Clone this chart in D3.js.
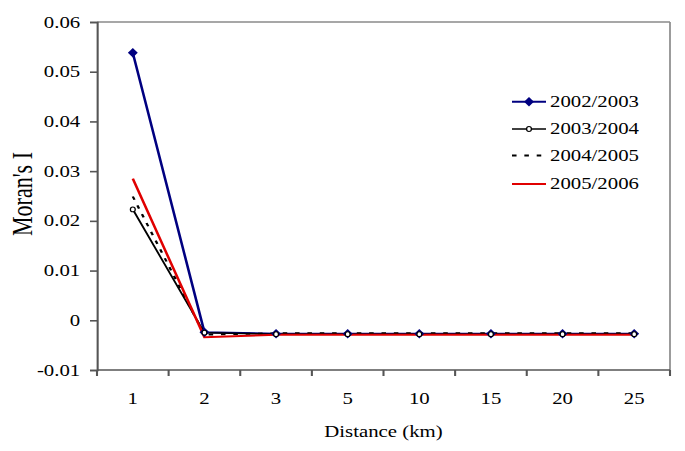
<!DOCTYPE html>
<html>
<head>
<meta charset="utf-8">
<script src="https://cdn.jsdelivr.net/npm/d3@7"></script>
<style>
  body { margin: 0; background: #fff; }
  text { font-family: "Liberation Serif", "Times New Roman", serif; fill: #000; }
</style>
</head>
<body>
<svg id="chart"></svg>
<script>
// chart values
const distance = ["1", "2", "3", "5", "10", "15", "20", "25"]
const s2002 = [0.0538, -0.0024, -0.0027, -0.0027, -0.0027, -0.0027, -0.0027, -0.0027]
const s2003 = [0.0223, -0.0025, -0.0028, -0.0028, -0.0028, -0.0028, -0.0028, -0.0028]
const s2004 = [0.0249, -0.0029, -0.0026, -0.0026, -0.0026, -0.0026, -0.0026, -0.0026]
const s2005 = [0.0285, -0.0034, -0.0029, -0.0029, -0.0029, -0.0029, -0.0029, -0.0029]
const yTicks = [-0.01, 0, 0.01, 0.02, 0.03, 0.04, 0.05, 0.06]
const seriesNames = ["2002/2003", "2003/2004", "2004/2005", "2005/2006"]

// the original picture is stretched sideways, so draw in a narrower box and stretch it
const W = 685, H = 451, S = 1.3
const w = W / S
const svg = d3.select("#chart").attr("width", W).attr("height", H)
  .attr("viewBox", "0 0 " + w + " " + H).attr("preserveAspectRatio", "none")

const pLeft = 97 / S, pRight = 670 / S, pTop = 22, pBottom = 370

const x = d3.scaleBand().domain(distance).range([pLeft, pRight]).paddingInner(0).paddingOuter(0)
const y = d3.scaleLinear().domain([-0.01, 0.06]).range([pBottom, pTop])

// frame: light top and right borders
svg.append("line").attr("x1", pLeft).attr("x2", pRight).attr("y1", pTop).attr("y2", pTop)
  .attr("stroke", "#8a8a8a").attr("stroke-width", 1.3)
svg.append("line").attr("x1", pRight).attr("x2", pRight).attr("y1", pTop).attr("y2", pBottom)
  .attr("stroke", "#8a8a8a").attr("stroke-width", 1.3)

// y axis
const yAxis = svg.append("g").attr("transform", "translate(" + pLeft + ",0)")
  .call(d3.axisLeft(y).tickValues(yTicks).tickSize(5.4).tickPadding(7.5).tickFormat(d => String(d)))
yAxis.selectAll("path,line").attr("stroke", "#555").attr("stroke-width", 1.6)
yAxis.selectAll("text").attr("font-size", 16).attr("font-family", "Liberation Serif").attr("fill", "#000")

// x axis: labels centred in bands, ticks on band boundaries
svg.append("line").attr("x1", pLeft).attr("x2", pRight).attr("y1", pBottom).attr("y2", pBottom)
  .attr("stroke", "#555").attr("stroke-width", 1.6)
const bounds = distance.map(d => x(d)).concat([x.range()[1]])
svg.selectAll(".xtick").data(bounds).join("line").attr("class", "xtick")
  .attr("x1", d => d).attr("x2", d => d).attr("y1", pBottom).attr("y2", pBottom + 6)
  .attr("stroke", "#555").attr("stroke-width", 1.6)
svg.selectAll(".xlab").data(distance).join("text").attr("class", "xlab")
  .attr("x", d => x(d) + x.bandwidth() / 2).attr("y", 404)
  .attr("text-anchor", "middle").attr("font-size", 16).text(d => d)

// axis titles
svg.append("text").attr("x", (pLeft + pRight) / 2).attr("y", 437).attr("text-anchor", "middle")
  .attr("font-size", 16).text("Distance (km)")
svg.append("text").attr("transform", "translate(" + (32 / S) + ",194) rotate(-90)")
  .attr("text-anchor", "middle").attr("font-size", 22).text("Moran's I")

// lines
const cx = (d, i) => x(distance[i]) + x.bandwidth() / 2
const line = d3.line().x(cx).y(d => y(d))
const g = svg.append("g")
g.append("path").attr("d", line(s2002)).attr("fill", "none").attr("stroke", "#000080").attr("stroke-width", 2)
g.append("path").attr("d", line(s2003)).attr("fill", "none").attr("stroke", "#000").attr("stroke-width", 1.5)
g.append("path").attr("d", line(s2004)).attr("fill", "none").attr("stroke", "#000").attr("stroke-width", 1.8)
  .attr("stroke-dasharray", "3.5,6")
g.append("path").attr("d", line(s2005)).attr("fill", "none").attr("stroke", "#e00000").attr("stroke-width", 2)

// markers
const diamond = (px, py, hw, hh) => "M" + px + "," + (py - hh) + "L" + (px + hw) + "," + py +
  "L" + px + "," + (py + hh) + "L" + (px - hw) + "," + py + "Z"
g.selectAll(".d02").data(s2002).join("path").attr("class", "d02")
  .attr("d", (d, i) => diamond(cx(d, i), y(d), 3.8, 4.8)).attr("fill", "#000080")
g.selectAll(".c03").data(s2003).join("ellipse").attr("class", "c03")
  .attr("cx", cx).attr("cy", d => y(d)).attr("rx", 2.2 / S * 1.1).attr("ry", 2.4)
  .attr("fill", "#fff").attr("stroke", "#000").attr("stroke-width", 1)

// legend
const legY = [101.7, 129, 155.5, 184]
const lx1 = 512 / S, lx2 = 546 / S, tx = 550 / S
const leg = svg.append("g")
const styles = [
  { stroke: "#000080", w: 2, dash: null },
  { stroke: "#000", w: 1.5, dash: null },
  { stroke: "#000", w: 1.8, dash: "3.5,6" },
  { stroke: "#e00000", w: 2, dash: null }
]
seriesNames.forEach((name, i) => {
  leg.append("line").attr("x1", lx1).attr("x2", lx2).attr("y1", legY[i]).attr("y2", legY[i])
    .attr("stroke", styles[i].stroke).attr("stroke-width", styles[i].w)
    .attr("stroke-dasharray", styles[i].dash)
  leg.append("text").attr("x", tx).attr("y", legY[i] + 5.5).attr("font-size", 16).text(name)
})
leg.append("path").attr("d", diamond((lx1 + lx2) / 2, legY[0], 3.8, 4.8)).attr("fill", "#000080")
leg.append("ellipse").attr("cx", (lx1 + lx2) / 2).attr("cy", legY[1]).attr("rx", 2.2 / S * 1.1).attr("ry", 2.4)
  .attr("fill", "#fff").attr("stroke", "#000").attr("stroke-width", 1)
</script>
</body>
</html>
